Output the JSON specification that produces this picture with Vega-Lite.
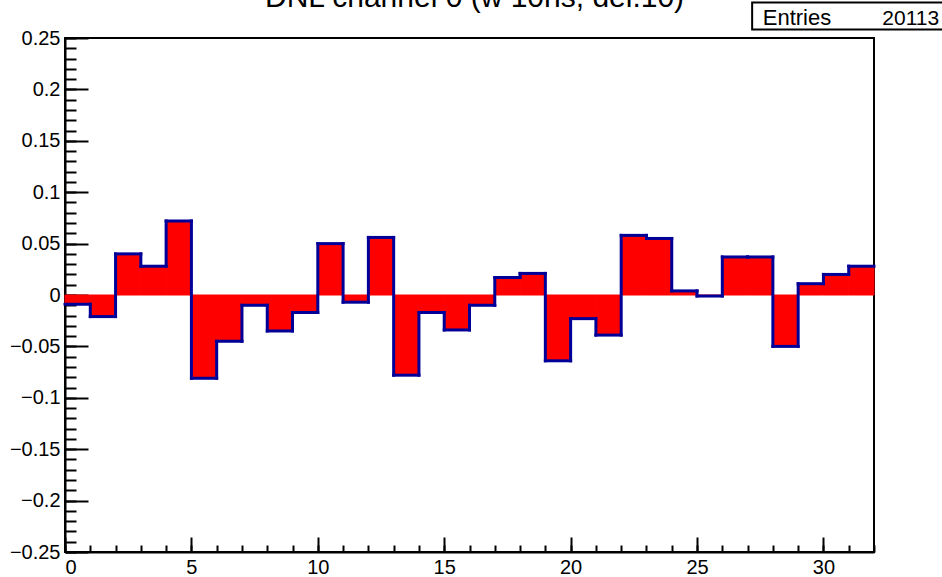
{
  "$schema": "https://vega.github.io/schema/vega-lite/v6.json",
  "width": 809,
  "height": 514,
  "autosize": {"type": "none"},
  "padding": {"left": 65, "top": 38, "right": 68, "bottom": 25},
  "background": "white",
  "config": {
    "view": {"stroke": "black", "strokeWidth": 2},
    "font": "Liberation Sans",
    "axis": {
      "title": null,
      "grid": false,
      "labelFont": "Liberation Sans",
      "labelFontSize": 20,
      "labelColor": "black",
      "tickColor": "black",
      "tickWidth": 2,
      "domainColor": "black",
      "domainWidth": 2
    }
  },
  "datasets": {
    "bins": [
      {"lo": 0, "hi": 1, "value": -0.009},
      {"lo": 1, "hi": 2, "value": -0.021},
      {"lo": 2, "hi": 3, "value": 0.040},
      {"lo": 3, "hi": 4, "value": 0.028},
      {"lo": 4, "hi": 5, "value": 0.072},
      {"lo": 5, "hi": 6, "value": -0.081},
      {"lo": 6, "hi": 7, "value": -0.045},
      {"lo": 7, "hi": 8, "value": -0.010},
      {"lo": 8, "hi": 9, "value": -0.035},
      {"lo": 9, "hi": 10, "value": -0.017},
      {"lo": 10, "hi": 11, "value": 0.050},
      {"lo": 11, "hi": 12, "value": -0.007},
      {"lo": 12, "hi": 13, "value": 0.056},
      {"lo": 13, "hi": 14, "value": -0.078},
      {"lo": 14, "hi": 15, "value": -0.017},
      {"lo": 15, "hi": 16, "value": -0.034},
      {"lo": 16, "hi": 17, "value": -0.010},
      {"lo": 17, "hi": 18, "value": 0.017},
      {"lo": 18, "hi": 19, "value": 0.021},
      {"lo": 19, "hi": 20, "value": -0.064},
      {"lo": 20, "hi": 21, "value": -0.023},
      {"lo": 21, "hi": 22, "value": -0.039},
      {"lo": 22, "hi": 23, "value": 0.058},
      {"lo": 23, "hi": 24, "value": 0.055},
      {"lo": 24, "hi": 25, "value": 0.004},
      {"lo": 25, "hi": 26, "value": -0.001},
      {"lo": 26, "hi": 27, "value": 0.037},
      {"lo": 27, "hi": 28, "value": 0.037},
      {"lo": 28, "hi": 29, "value": -0.050},
      {"lo": 29, "hi": 30, "value": 0.011},
      {"lo": 30, "hi": 31, "value": 0.020},
      {"lo": 31, "hi": 32, "value": 0.028}
    ],
    "stats": [{"label": "Entries", "count": "20113", "title": "DNL channel 0 (w 10ns, del.10)"}]
  },
  "resolve": {"axis": {"x": "independent", "y": "independent"}},
  "layer": [
    {
      "data": {"name": "bins"},
      "mark": {"type": "rect", "fill": "#ff0000", "stroke": "#ff0000", "strokeWidth": 1},
      "encoding": {
        "x": {"field": "lo", "type": "quantitative",
              "scale": {"domain": [0, 32], "nice": false, "zero": false},
              "axis": {"orient": "bottom", "values": [0, 5, 10, 15, 20, 25, 30], "ticks": false, "labelPadding": 5, "domain": true}},
        "x2": {"field": "hi"},
        "y": {"field": "value", "type": "quantitative",
              "scale": {"domain": [-0.25, 0.25], "nice": false, "zero": false},
              "axis": {"orient": "left", "values": [-0.25, -0.2, -0.15, -0.1, -0.05, 0, 0.05, 0.1, 0.15, 0.2, 0.25], "format": "~g", "ticks": false, "labelPadding": 5, "domain": true}},
        "y2": {"datum": 0}
      }
    },
    {
      "data": {"name": "bins"},
      "mark": {"type": "rule", "stroke": "#000099", "strokeWidth": 3, "strokeCap": "square"},
      "encoding": {
        "x": {"field": "lo", "type": "quantitative",
              "axis": {"orient": "bottom", "values": [0, 5, 10, 15, 20, 25, 30], "tickSize": -15, "labels": false, "domain": false}},
        "x2": {"field": "hi"},
        "y": {"field": "value", "type": "quantitative",
              "axis": {"orient": "left", "values": [-0.25, -0.2, -0.15, -0.1, -0.05, 0, 0.05, 0.1, 0.15, 0.2, 0.25], "tickSize": -23, "labels": false, "domain": false}}
      }
    },
    {
      "data": {"name": "bins"},
      "transform": [
        {"window": [{"op": "lead", "field": "value", "as": "next"}], "sort": [{"field": "lo", "order": "ascending"}]},
        {"filter": "datum.next != null"}
      ],
      "mark": {"type": "rule", "stroke": "#000099", "strokeWidth": 3, "strokeCap": "square"},
      "encoding": {
        "x": {"field": "hi", "type": "quantitative",
              "axis": {"orient": "bottom", "values": [0,1,2,3,4,5,6,7,8,9,10,11,12,13,14,15,16,17,18,19,20,21,22,23,24,25,26,27,28,29,30,31,32], "tickSize": -7, "labels": false, "domain": false}},
        "y": {"field": "value", "type": "quantitative",
              "axis": {"orient": "left", "values": [-0.25,-0.24,-0.23,-0.22,-0.21,-0.2,-0.19,-0.18,-0.17,-0.16,-0.15,-0.14,-0.13,-0.12,-0.11,-0.1,-0.09,-0.08,-0.07,-0.06,-0.05,-0.04,-0.03,-0.02,-0.01,0,0.01,0.02,0.03,0.04,0.05,0.06,0.07,0.08,0.09,0.1,0.11,0.12,0.13,0.14,0.15,0.16,0.17,0.18,0.19,0.2,0.21,0.22,0.23,0.24,0.25], "tickSize": -11, "labels": false, "domain": false}},
        "y2": {"field": "next"}
      }
    },
    {
      "data": {"name": "stats"},
      "mark": {"type": "rect", "fill": "white", "stroke": "black", "strokeWidth": 2, "clip": false},
      "encoding": {
        "x": {"datum": 27.18, "type": "quantitative", "axis": null},
        "x2": {"datum": 36},
        "y": {"datum": 0.2846, "type": "quantitative", "axis": null},
        "y2": {"datum": 0.2583}
      }
    },
    {
      "data": {"name": "stats"},
      "mark": {"type": "text", "align": "left", "baseline": "alphabetic", "fontSize": 22, "font": "Liberation Sans", "color": "black", "clip": false},
      "encoding": {
        "x": {"datum": 27.6, "type": "quantitative", "axis": null},
        "y": {"datum": 0.2631, "type": "quantitative", "axis": null},
        "text": {"field": "label"}
      }
    },
    {
      "data": {"name": "stats"},
      "mark": {"type": "text", "align": "left", "baseline": "alphabetic", "fontSize": 21, "font": "Liberation Sans", "color": "black", "clip": false},
      "encoding": {
        "x": {"datum": 32.33, "type": "quantitative", "axis": null},
        "y": {"datum": 0.2631, "type": "quantitative", "axis": null},
        "text": {"field": "count"}
      }
    },
    {
      "data": {"name": "stats"},
      "mark": {"type": "text", "align": "center", "baseline": "alphabetic", "fontSize": 30, "font": "Liberation Sans", "color": "black", "clip": false},
      "encoding": {
        "x": {"datum": 16.2, "type": "quantitative", "axis": null},
        "y": {"datum": 0.2797, "type": "quantitative", "axis": null},
        "text": {"field": "title"}
      }
    }
  ]
}
